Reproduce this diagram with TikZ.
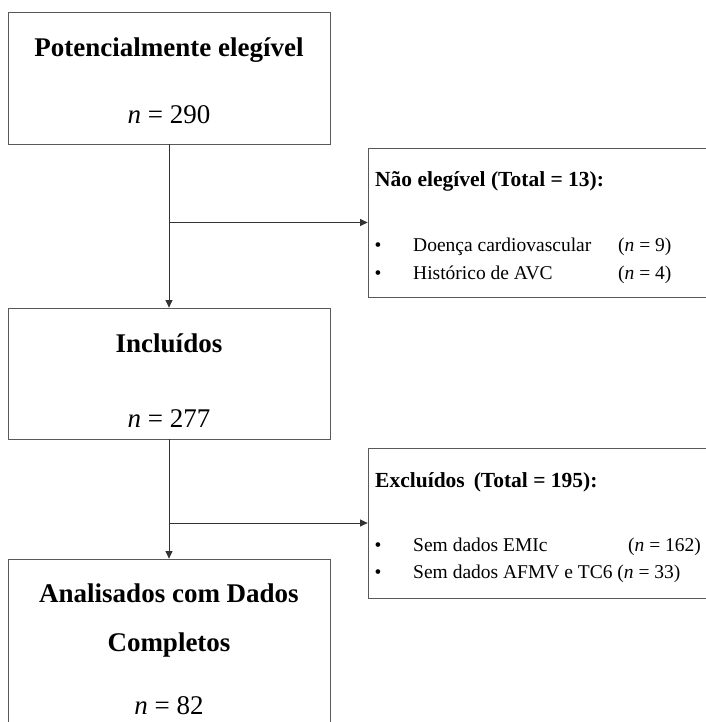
\documentclass[tikz,border=0pt]{standalone}
\usepackage{fontspec}
\setmainfont{Liberation Serif}
\usetikzlibrary{arrows.meta}
\begin{document}
\begin{tikzpicture}[x=1pt,y=-1pt,
    caixa/.style={draw=black!65,line width=0.8pt,inner sep=0pt},
    seta/.style={draw=black!80,line width=0.8pt,-{Triangle[length=7.5pt,width=7pt]}},
    titulo/.style={font=\fontsize{27}{32}\selectfont\bfseries,anchor=base,inner sep=0pt},
    numero/.style={font=\fontsize{27}{32}\selectfont,anchor=base,inner sep=0pt},
    lado/.style={font=\fontsize{21.5}{26}\selectfont\bfseries,anchor=base west,inner sep=0pt},
    item/.style={font=\fontsize{19.5}{23}\selectfont,anchor=base west,inner sep=0pt},
    ponto/.style={font=\fontsize{19.5}{23}\selectfont,anchor=base,inner sep=0pt}]
  \useasboundingbox (0,0) rectangle (705,722);
  % caixas do fluxo principal
  \node[caixa,minimum width=322pt,minimum height=132pt] (pot) at (169,78) {};
  \node[caixa,minimum width=322pt,minimum height=131pt] (inc) at (169,373.5) {};
  \node[caixa,minimum width=322pt,minimum height=165pt] (ana) at (169,641.5) {};
  % caixas laterais
  \node[caixa,minimum width=340pt,minimum height=149pt] (nao) at (538,222.5) {};
  \node[caixa,minimum width=340pt,minimum height=150pt] (exc) at (538,523) {};
  % textos
  \node[titulo] (potT) at (169,57) {Potencialmente elegível};
  \node[numero] (potN) at (169,124) {\textit{n} = 290};
  \node[titulo] (incT) at (169,352) {Incluídos};
  \node[numero] (incN) at (169,427) {\textit{n} = 277};
  \node[titulo] (anaT1) at (169,602) {Analisados com Dados};
  \node[titulo] (anaT2) at (169,651) {Completos};
  \node[numero] (anaN) at (169,714) {\textit{n} = 82};
  \node[lado] (naoT) at (375,186) {Não elegível (Total = 13):};
  \foreach \yy in {251,279} \node[ponto] (naoP\yy) at (378,\yy) {•};
  \node[item] (nao1) at (413,251) {Doença cardiovascular};
  \node[item] (nao1n) at (618,251) {(\textit{n} = 9)};
  \node[item] (nao2) at (413,279) {Histórico de AVC};
  \node[item] (nao2n) at (618,279) {(\textit{n} = 4)};
  \node[lado] (excT) at (375,487) {Excluídos \,(Total = 195):};
  \foreach \yy in {551,578} \node[ponto] (excP\yy) at (378,\yy) {•};
  \node[item] (exc1) at (413,551) {Sem dados EMIc};
  \node[item] (exc1n) at (628,551) {(\textit{n} = 162)};
  \node[item] (exc2) at (413,578) {Sem dados AFMV e TC6 (\textit{n} = 33)};
  % setas
  \coordinate (r1) at (pot.south |- nao.west);
  \coordinate (r2) at (inc.south |- exc.west);
  \draw[seta] (pot.south) -- (inc.north);
  \draw[seta] (r1) -- (nao.west);
  \draw[seta] (inc.south) -- (ana.north);
  \draw[seta] (r2) -- (exc.west);
\end{tikzpicture}
\end{document}
